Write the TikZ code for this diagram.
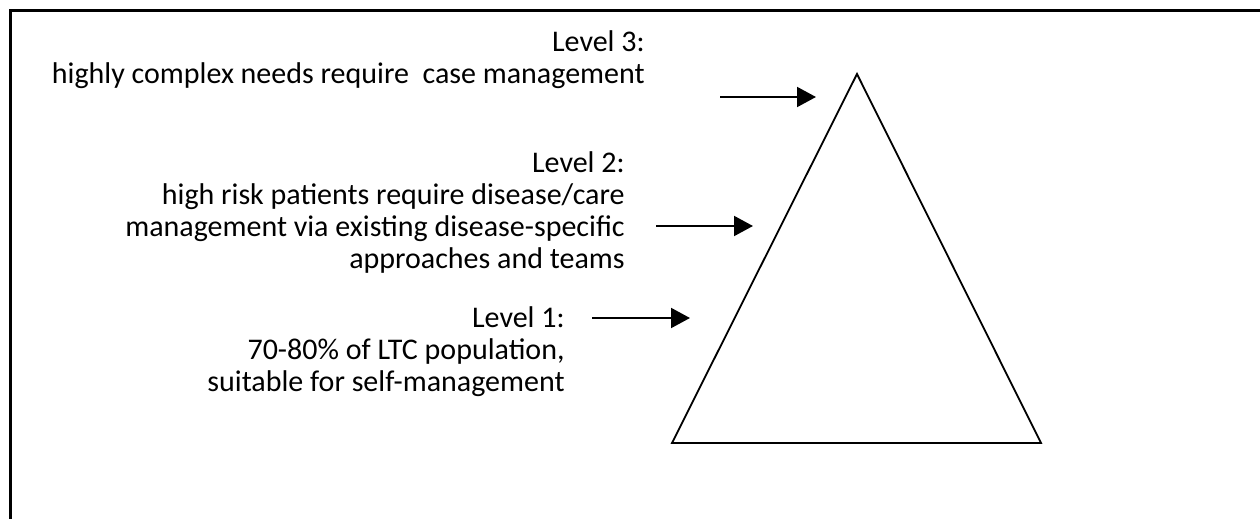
\documentclass[tikz,border=0pt]{standalone}
\usepackage{fontspec}
\setmainfont{Carlito}
\usetikzlibrary{arrows.meta}
\colorlet{line edge}{black}
\tikzset{level text/.style={anchor=north east, align=right, inner sep=0pt,
        font=\fontsize{15}{16}\selectfont},
    pointer/.style={draw=line edge, line width=1pt,
        -{Triangle[length=9.5pt,width=10pt]}},
    outline/.style={draw=line edge, line width=0.9pt, line join=miter}}

\begin{document}
\begin{tikzpicture}[x=0.5pt,y=-0.5pt]
    \useasboundingbox (0,0) rectangle (1260,519);
    % open frame, cut at the right and bottom
    \draw[line width=1.5pt] (10,519) -- (10,11) -- (1260,11);
    % the pyramid
    \coordinate (apex) at (857,74);
    \coordinate (base left) at (672,443);
    \coordinate (base right) at (1041,443);
    \draw[outline] (apex) -- (base left) -- (base right) -- cycle;
    % labels and their pointers
    \node[level text] (level3) at (645,30)
        {Level 3:\\highly complex needs require\ \ case management};
    \node[level text] (level2) at (625,151)
        {Level 2:\\high risk patients require disease/care\\management via existing disease-specific\\approaches and teams};
    \node[level text] (level1) at (565,306)
        {Level 1:\\70-80\% of LTC population,\\suitable for self-management};
    \coordinate (tail3) at (720,97);  \coordinate (tip3) at (816,97);
    \coordinate (tail2) at (656,226); \coordinate (tip2) at (753,226);
    \coordinate (tail1) at (592,318); \coordinate (tip1) at (690,318);
    \draw[pointer] (tail3) -- (tip3);
    \draw[pointer] (tail2) -- (tip2);
    \draw[pointer] (tail1) -- (tip1);
\end{tikzpicture}
\end{document}
